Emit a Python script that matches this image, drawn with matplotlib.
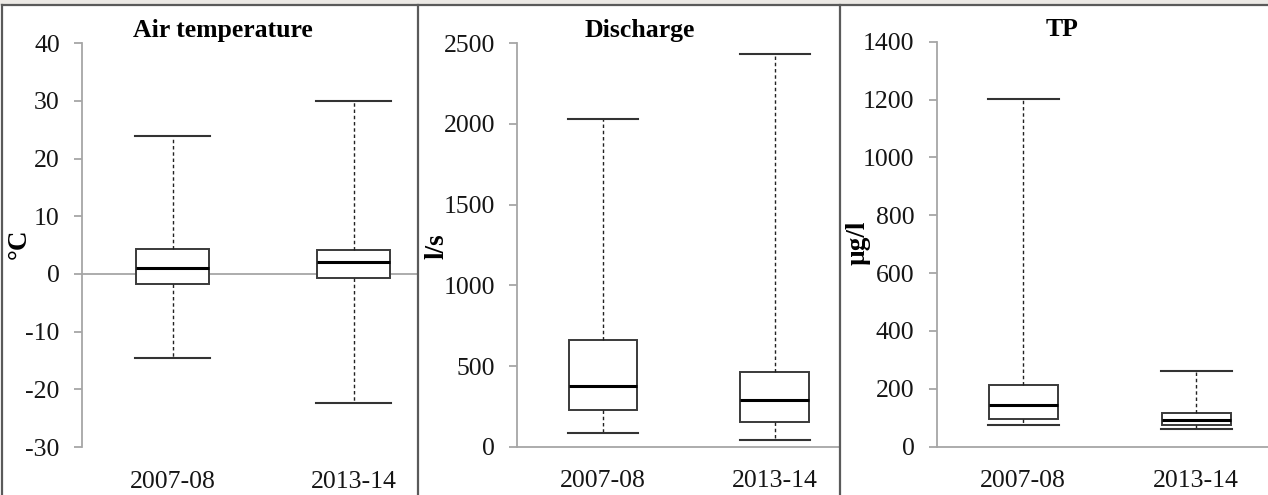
import matplotlib
matplotlib.use("Agg")
import matplotlib.pyplot as plt
from matplotlib.lines import Line2D
from matplotlib.patches import Rectangle

plt.rcParams['font.family'] = ['Liberation Serif', 'DejaVu Serif']

# ---- data ----
categories = ["2007-08", "2013-14"]

titles = ["Air temperature", "Discharge", "TP"]
ylabels = ["°C", "l/s", "µg/l"]

air_whislo = [-14.5, -22.4]
air_q1 = [-1.8, -0.7]
air_med = [1.0, 2.0]
air_q3 = [4.4, 4.2]
air_whishi = [24.0, 30.0]

dis_whislo = [83, 40]
dis_q1 = [226, 155]
dis_med = [378, 288]
dis_q3 = [661, 465]
dis_whishi = [2033, 2435]

tp_whislo = [75, 60]
tp_q1 = [95, 74]
tp_med = [144, 92]
tp_q3 = [212, 117]
tp_whishi = [1203, 262]

air_ticks = [-30, -20, -10, 0, 10, 20, 30, 40]
dis_ticks = [0, 500, 1000, 1500, 2000, 2500]
tp_ticks = [0, 200, 400, 600, 800, 1000, 1200, 1400]

series = [
    (air_whislo, air_q1, air_med, air_q3, air_whishi, air_ticks),
    (dis_whislo, dis_q1, dis_med, dis_q3, dis_whishi, dis_ticks),
    (tp_whislo, tp_q1, tp_med, tp_q3, tp_whishi, tp_ticks),
]

# ---- layout (pixels) ----
W, H = 1268, 495
fig = plt.figure(figsize=(W / 100, H / 100), dpi=100)
fig.patch.set_facecolor("white")

# top grey strip
fig.add_artist(Rectangle((0, 1 - 5 / H), 1, 5 / H, transform=fig.transFigure,
                         facecolor="#ECE9E5", edgecolor="none", zorder=0))

# axes geometry: left px, right px, top px, bottom px, category spacing px
geom = [
    (82, 418, 43.3, 447.0, 181.0),
    (517.3, 839, 43.3, 446.7, 171.6),
    (936.7, 1268, 41.7, 446.7, 173.0),
]
title_pos = [(223, 30), (640, 30), (1062, 30)]
ylabel_pos = [(19, 244), (437, 246), (858, 243)]

grey = "#A6A6A6"
for i, (l, r, t, b, sp) in enumerate(geom):
    ax = fig.add_axes([l / W, 1 - b / H, (r - l) / W, (b - t) / H])
    ax.set_facecolor("none")
    whislo, q1, med, q3, whishi, ticks = series[i]
    stats = []
    for k, cat in enumerate(categories):
        stats.append(dict(label=cat, whislo=whislo[k], q1=q1[k], med=med[k],
                          q3=q3[k], whishi=whishi[k], fliers=[]))
    ax.axhline(0, color=grey, lw=1.3, zorder=1, clip_on=False)
    ax.bxp(stats, positions=[1, 2], widths=0.40, capwidths=0.41,
           patch_artist=True, showfliers=False,
           boxprops=dict(facecolor="white", edgecolor="#3A3A3A", linewidth=1.4),
           medianprops=dict(color="black", linewidth=2.2),
           whiskerprops=dict(color="#222222", linewidth=1.0, linestyle=(0, (2.5, 2))),
           capprops=dict(color="#333333", linewidth=1.5),
           zorder=3)
    ax.set_xlim(0.5, 0.5 + (r - l) / sp)
    ax.set_ylim(ticks[0], ticks[-1])
    ax.set_yticks(ticks)
    ax.set_yticklabels([str(v) for v in ticks])
    for s in ["top", "right", "bottom"]:
        ax.spines[s].set_visible(False)
    ax.spines["left"].set_color(grey)
    ax.spines["left"].set_linewidth(1.3)
    ax.tick_params(axis="y", direction="out", length=6, width=1.3, color=grey,
                   labelsize=18.5, pad=10, labelcolor="#151515")
    ax.tick_params(axis="x", length=0, labelsize=18.5, pad=17, labelcolor="#151515")
    ax.set_xticks([1, 2])
    ax.set_xticklabels(categories)

    fig.text(title_pos[i][0] / W, 1 - title_pos[i][1] / H, titles[i],
             ha="center", va="center", fontsize=18.5, fontweight="bold")
    fig.text(ylabel_pos[i][0] / W, 1 - ylabel_pos[i][1] / H, ylabels[i],
             ha="center", va="center", fontsize=19.5, fontweight="bold", rotation=90)

# panel frames
fc = "#5A5A5A"
for xs, ys in [((2, 1268), (5, 5)), ((2, 2), (5, 495)),
               ((418, 418), (5, 495)), ((839.5, 839.5), (5, 495))]:
    fig.add_artist(Line2D([x / W for x in xs], [1 - y / H for y in ys],
                          transform=fig.transFigure, color=fc, lw=1.6, zorder=10))

fig.savefig("out.png", dpi=100)
